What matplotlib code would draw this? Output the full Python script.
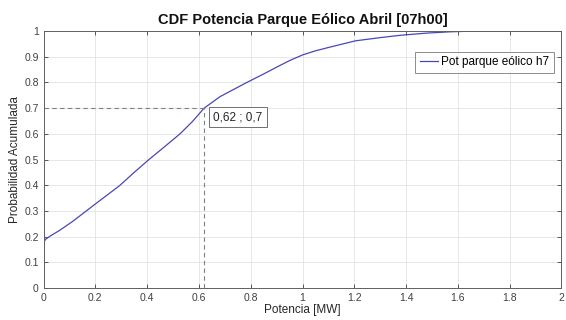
import matplotlib
matplotlib.use("Agg")
import matplotlib.pyplot as plt
import numpy as np

# CDF curve (Potencia [MW] vs probabilidad acumulada)
potencia = [0.0, 0.0, 0.008, 0.03, 0.06, 0.112, 0.2, 0.293, 0.35, 0.407, 0.465, 0.527,
            0.575, 0.62, 0.682, 0.785, 0.85, 0.903, 0.95, 1.0, 1.05, 1.1, 1.205, 1.305,
            1.383, 1.48, 1.57, 1.65, 1.8, 2.0]
prob = [0.0, 0.177, 0.19, 0.205, 0.223, 0.259, 0.327, 0.398, 0.45, 0.5, 0.548, 0.6,
        0.648, 0.70, 0.745, 0.80, 0.833, 0.861, 0.885, 0.907, 0.923, 0.936, 0.962, 0.975,
        0.984, 0.992, 0.997, 0.9995, 1.0, 1.0]

tip_x = 0.62
tip_y = 0.7
tip_label = "0,62 ; 0,7"
legend_label = "Pot parque eólico h7"

plt.rcParams['font.family'] = ['Liberation Sans', 'DejaVu Sans']

fig = plt.figure(figsize=(5.66, 3.2), dpi=100)
ax = fig.add_axes([0.077, 0.1, 0.915, 0.803])

ax.plot(potencia, prob, color='#4848b4', lw=0.9, label=legend_label)

# data tip guides
ax.plot([0, tip_x], [tip_y, tip_y], color='#808080', lw=0.8, ls=(0, (4, 3)))
ax.plot([tip_x, tip_x], [0, tip_y], color='#808080', lw=0.8, ls=(0, (4, 3)))
ax.text(tip_x + 0.035, tip_y - 0.035, tip_label, fontsize=8.5, va='center', ha='left',
        color='#262626',
        bbox=dict(boxstyle='square,pad=0.35', fc='white', ec='#707070', lw=0.7))

ax.set_xlim(0, 2)
ax.set_ylim(0, 1)
ax.set_xticks(np.arange(0, 2.01, 0.2))
ax.set_yticks(np.arange(0, 1.01, 0.1))
ax.set_xticklabels(['0', '0.2', '0.4', '0.6', '0.8', '1', '1.2', '1.4', '1.6', '1.8', '2'])
ax.set_yticklabels(['0', '0.1', '0.2', '0.3', '0.4', '0.5', '0.6', '0.7', '0.8', '0.9', '1'])
ax.tick_params(direction='in', top=True, right=True, labelsize=7.5, colors='#404040',
               length=3, width=0.6)
ax.grid(True, color='#e3e3e3', lw=0.6)
for s in ax.spines.values():
    s.set_color('#606060')
    s.set_linewidth(0.7)

ax.set_xlabel('Potencia [MW]', fontsize=8.5, color='#262626', labelpad=1)
ax.set_ylabel('Probabilidad Acumulada', fontsize=8.5, color='#262626', labelpad=2)
ax.set_title('CDF Potencia Parque Eólico Abril [07h00]', fontsize=10.5, fontweight='bold',
             color='#111111', pad=5)

leg = ax.legend(loc='upper right', bbox_to_anchor=(0.985, 0.92), fontsize=8.5,
                frameon=True, fancybox=False, handlelength=1.6, handletextpad=0.2,
                borderpad=0.4, borderaxespad=0)
leg.get_frame().set_edgecolor('#707070')
leg.get_frame().set_linewidth(0.7)

fig.savefig('out.png', dpi=100)
